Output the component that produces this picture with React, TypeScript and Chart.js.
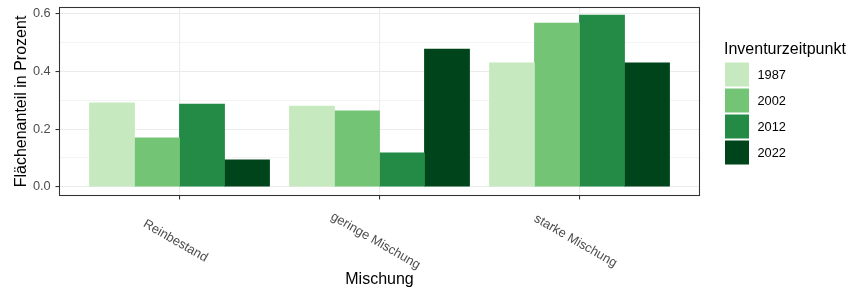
import React, { useEffect, useRef } from "react";
import { Chart, registerables } from "chart.js";

Chart.register(...registerables);

const categories = ["Reinbestand", "geringe Mischung", "starke Mischung"];
const years = ["1987", "2002", "2012", "2022"];
const values1987 = [0.291, 0.28, 0.43];
const values2002 = [0.169, 0.263, 0.568];
const values2012 = [0.287, 0.117, 0.596];
const values2022 = [0.093, 0.478, 0.43];
const yTicks = [0, 0.1, 0.2, 0.3, 0.4, 0.5, 0.6];
const yMajorTicks = [0, 0.2, 0.4, 0.6];
const colors = ["#C7E9C0", "#74C476", "#238B45", "#00441B"];
const yTitle = "Flächenanteil in Prozent";
const xTitle = "Mischung";
const legendTitle = "Inventurzeitpunkt";

const FONT = '"Liberation Sans", Arial, Helvetica, sans-serif';
const seriesValues = [values1987, values2002, values2012, values2022];

const isMajor = (v: number) => yMajorTicks.some((m) => Math.abs(m - v) < 1e-9);

const overlayPlugin = {
  id: "overlay",
  afterDatasetsDraw(chart: any) {
    const { ctx, chartArea: a } = chart;
    ctx.save();
    ctx.strokeStyle = "#333333";
    ctx.lineWidth = 1.07;
    ctx.strokeRect(a.left, a.top, a.right - a.left, a.bottom - a.top);
    ctx.restore();
  },
  afterDraw(chart: any) {
    const { ctx, chartArea: a } = chart;
    const xs = chart.scales.x;
    ctx.save();
    // x tick labels
    ctx.fillStyle = "#4D4D4D";
    ctx.font = `12.8px ${FONT}`;
    ctx.textAlign = "center";
    ctx.textBaseline = "alphabetic";
    categories.forEach((c, i) => {
      const px = xs.getPixelForValue(i + 1);
      ctx.save();
      ctx.translate(px - 3.5, a.bottom + 44.5);
      ctx.rotate(Math.PI / 6);
      ctx.fillText(c, 0, 12.8 * 0.36);
      ctx.restore();
    });
    // axis titles
    ctx.fillStyle = "#000000";
    ctx.font = `16px ${FONT}`;
    ctx.textAlign = "center";
    ctx.fillText(xTitle, (a.left + a.right) / 2, 283.5);
    ctx.save();
    ctx.translate(25.8, (a.top + a.bottom) / 2);
    ctx.rotate(-Math.PI / 2);
    ctx.fillText(yTitle, 0, 0);
    ctx.restore();
    // legend
    const lx = a.right + 24.5;
    ctx.textAlign = "left";
    ctx.fillText(legendTitle, lx, 53.5);
    const keyTop = 61.5;
    const pitch = 26;
    ctx.font = `12.8px ${FONT}`;
    years.forEach((y, i) => {
      const top = keyTop + pitch * i;
      ctx.fillStyle = colors[i];
      ctx.fillRect(lx + 1, top + 1, 24, 24);
      ctx.fillStyle = "#000000";
      ctx.fillText(y, lx + 33.5, top + 13 + 12.8 * 0.36);
    });
    ctx.restore();
  },
};

export default function App() {
  const ref = useRef<HTMLCanvasElement | null>(null);
  useEffect(() => {
    if (!ref.current) return;
    Chart.defaults.font.family = FONT;
    const chart = new Chart(ref.current, {
      type: "bar",
      data: {
        datasets: years.map((y, si) => ({
          label: y,
          data: categories.map((_, ci) => ({ x: ci + 1, y: seriesValues[si][ci] })),
          backgroundColor: colors[si],
          borderWidth: 0,
          inflateAmount: 0.4,
          categoryPercentage: 0.9,
          barPercentage: 1,
        })),
      },
      options: {
        responsive: false,
        animation: false,
        layout: { padding: { left: 0, right: 851 - 699.5, top: 7.5, bottom: 0 } },
        plugins: { legend: { display: false }, tooltip: { enabled: false } },
        scales: {
          x: {
            type: "linear",
            min: 0.4,
            max: 3.6,
            offset: false,
            afterFit: (s: any) => {
              s.height = 290 - 195.5;
              s.paddingLeft = 0;
              s.paddingRight = 0;
            },
            afterBuildTicks: (s: any) => {
              s.ticks = categories.map((_, i) => ({ value: i + 1 }));
            },
            ticks: { display: false },
            border: { display: false },
            grid: {
              offset: false,
              color: "#EBEBEB",
              lineWidth: 1.07,
              drawTicks: true,
              tickLength: 4,
              tickColor: "#333333",
              tickWidth: 1.07,
            },
          },
          y: {
            type: "linear",
            min: -0.0306,
            max: 0.6222,
            afterFit: (s: any) => {
              s.width = 59.5;
              s.paddingTop = 0;
              s.paddingBottom = 0;
            },
            afterBuildTicks: (s: any) => {
              s.ticks = yTicks.map((v) => ({ value: v }));
            },
            ticks: {
              padding: 4.8,
              color: "#4D4D4D",
              font: { size: 12.8, family: FONT },
              callback: (v: any) => (isMajor(Number(v)) ? Number(v).toFixed(1) : ""),
            },
            border: { display: false },
            grid: {
              color: "#EBEBEB",
              lineWidth: (c: any) => (c.tick && isMajor(c.tick.value) ? 1.07 : 0.53),
              drawTicks: true,
              tickLength: 4,
              tickColor: (c: any) => (c.tick && isMajor(c.tick.value) ? "#333333" : "rgba(0,0,0,0)"),
              tickWidth: 1.07,
            },
          },
        },
      },
      plugins: [overlayPlugin],
    } as any);
    return () => chart.destroy();
  }, []);
  return (
    <div style={{ position: "absolute", left: 0, top: 0, width: 851, height: 290, background: "#fff" }}>
      <canvas ref={ref} width={851} height={290} style={{ display: "block" }} />
    </div>
  );
}
